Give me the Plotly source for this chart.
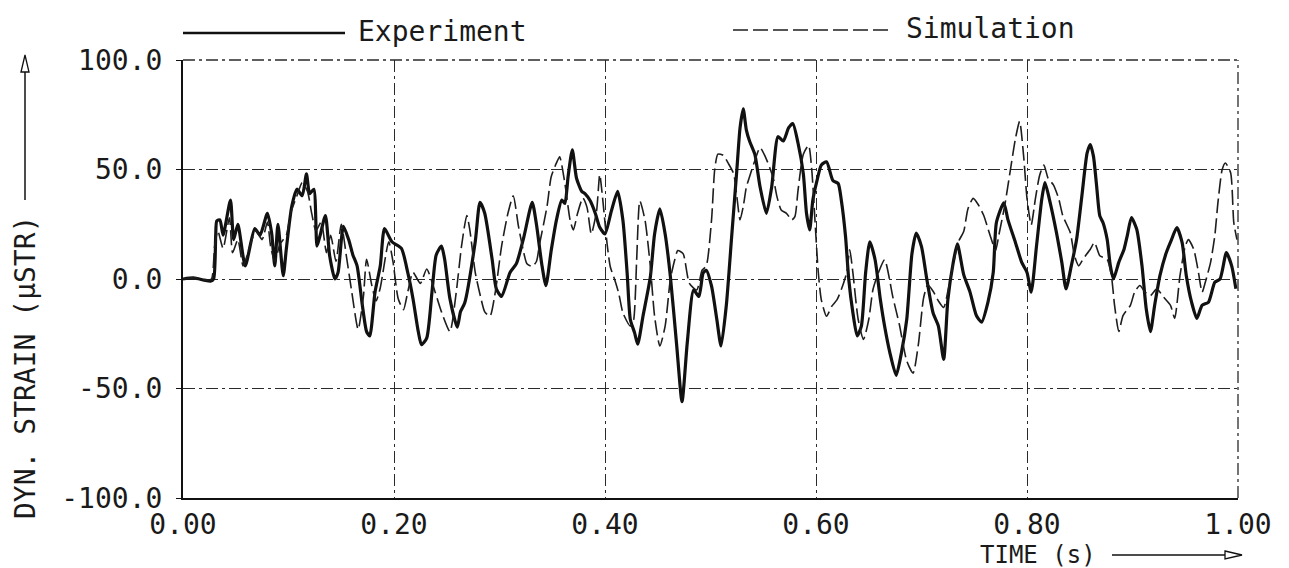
import plotly.graph_objects as go

# ---------------- data ----------------
exp_t = [0.000, 0.010, 0.020, 0.026, 0.029, 0.031, 0.032, 0.035, 0.038, 0.045, 0.048, 0.052, 0.059, 0.068,
         0.073, 0.080, 0.084, 0.087, 0.090, 0.095, 0.098, 0.103, 0.108, 0.113, 0.117, 0.120, 0.124, 0.127,
         0.130, 0.135, 0.139, 0.144, 0.147, 0.152, 0.157, 0.161, 0.165, 0.170, 0.174, 0.177, 0.182, 0.187,
         0.191, 0.198, 0.207, 0.213, 0.218, 0.223, 0.226, 0.231, 0.236, 0.240, 0.245, 0.248, 0.253, 0.260,
         0.263, 0.267, 0.277, 0.2815, 0.286, 0.293, 0.297, 0.302, 0.310, 0.316, 0.323, 0.331, 0.335, 0.340,
         0.344, 0.349, 0.354, 0.359, 0.362, 0.365, 0.369, 0.373, 0.378, 0.381, 0.386, 0.391, 0.395, 0.400,
         0.406, 0.412, 0.417, 0.421, 0.424, 0.428, 0.431, 0.436, 0.443, 0.447, 0.452, 0.457, 0.462, 0.468,
         0.473, 0.478, 0.484, 0.489, 0.493, 0.496, 0.501, 0.506, 0.510, 0.515, 0.520, 0.525, 0.528, 0.531,
         0.534, 0.537, 0.542, 0.547, 0.553, 0.558, 0.564, 0.569, 0.574, 0.578, 0.583, 0.588, 0.591, 0.594,
         0.597, 0.601, 0.605, 0.610, 0.616, 0.621, 0.624, 0.628, 0.631, 0.635, 0.639, 0.643, 0.647, 0.651,
         0.656, 0.661, 0.665, 0.670, 0.676, 0.681, 0.686, 0.691, 0.695, 0.700, 0.705, 0.711, 0.716, 0.721,
         0.725, 0.730, 0.734, 0.740, 0.746, 0.752, 0.757, 0.763, 0.768, 0.771, 0.778, 0.782, 0.789, 0.795,
         0.800, 0.804, 0.809, 0.814, 0.817, 0.822, 0.828, 0.833, 0.837, 0.842, 0.847, 0.852, 0.857, 0.860,
         0.863, 0.866, 0.869, 0.872, 0.876, 0.879, 0.882, 0.887, 0.892, 0.895, 0.899, 0.904, 0.909, 0.913,
         0.917, 0.921, 0.926, 0.932, 0.937, 0.942, 0.947, 0.951, 0.956, 0.961, 0.966, 0.972, 0.978, 0.983,
         0.989, 0.994, 0.998]
exp_v = [0, 0.5, -0.5, -1, 0, 20, 26.5, 27, 20, 36, 18, 25, 6, 23,
         20, 30, 21, 6, 25, 1.5, 14, 33, 41, 38, 48, 39, 41, 15,
         20, 29, 10.6, 0, 3, 24, 18, 11, 6, -12, -24, -26, -6, 6,
         23, 17, 14, 3, -9, -24, -30, -27, -6, 11, 15, 9, -9, -22,
         -15, -11, 17, 35, 30, 9, -4.5, -8, 3, 7, 19, 35, 25, 7,
         -3, 13, 27, 36, 34.5, 46.7, 59, 46, 40, 39, 35.7, 29.7, 23.6, 20.6,
         31, 40, 26.7, 2.6, -18.5, -24.5, -29.8, -17, 1, 20.6, 32, 20.6, 1, -30.6,
         -56, -29, -5, -8, 2.7, 4, -3.3, -18.5, -30.6, -12, 19, 50, 69, 77.7,
         68, 63, 57, 42, 30, 42, 65, 63, 69, 71, 62, 48, 30, 22.4,
         36, 45, 52, 53.5, 45, 43.6, 36, 19.4, 0, -15.5, -26, -21.5, 2.7, 17,
         8.8, -9.4, -21.5, -33.6, -44, -33.6, -18.5, 11.8, 21, 14.8, 0, -15.5, -21.5, -36.7,
         -9.4, 7.3, 16, 2, -6, -16.7, -19.7, -10.6, 3, 25.8, 34.8, 27, 16.7, 7.6,
         3, -6, 15, 36.4, 44, 34.8, 21, 7.6, -4.5, 6, 18, 37.9, 57.6, 61.4,
         56, 42.4, 28.8, 25.8, 18, 6, 0, 7.6, 13.6, 19.7, 28, 22.7, 6, -13.6,
         -24, -12, 1.5, 12, 18, 23.5, 16.7, 1.5, -10.6, -18, -12, -10.6, -1.5, 0,
         12, 6, -4.5]

sim_t = [0.000, 0.012, 0.022, 0.027, 0.030, 0.033, 0.038, 0.044, 0.047, 0.052, 0.057, 0.064, 0.069, 0.075,
         0.080, 0.083, 0.087, 0.092, 0.098, 0.102, 0.108, 0.113, 0.118, 0.122, 0.126, 0.131, 0.136, 0.140,
         0.145, 0.150, 0.155, 0.160, 0.166, 0.171, 0.174, 0.179, 0.183, 0.187, 0.195, 0.199, 0.204, 0.209,
         0.213, 0.218, 0.225, 0.231, 0.239, 0.245, 0.253, 0.259, 0.264, 0.269, 0.272, 0.277, 0.282, 0.286,
         0.291, 0.296, 0.302, 0.308, 0.313, 0.318, 0.323, 0.326, 0.331, 0.335, 0.338, 0.345, 0.349, 0.354,
         0.357, 0.362, 0.367, 0.370, 0.374, 0.379, 0.383, 0.387, 0.392, 0.395, 0.398, 0.402, 0.405, 0.409,
         0.413, 0.417, 0.424, 0.427, 0.430, 0.433, 0.438, 0.443, 0.447, 0.452, 0.457, 0.462, 0.466, 0.469,
         0.474, 0.480, 0.487, 0.492, 0.496, 0.501, 0.504, 0.507, 0.512, 0.517, 0.522, 0.525, 0.528, 0.531,
         0.534, 0.537, 0.542, 0.547, 0.552, 0.556, 0.560, 0.563, 0.567, 0.572, 0.577, 0.580, 0.583, 0.588,
         0.593, 0.596, 0.599, 0.602, 0.605, 0.610, 0.615, 0.620, 0.624, 0.629, 0.632, 0.635, 0.640, 0.645,
         0.650, 0.654, 0.659, 0.665, 0.673, 0.679, 0.686, 0.692, 0.697, 0.702, 0.706, 0.711, 0.716, 0.721,
         0.725, 0.730, 0.735, 0.740, 0.744, 0.749, 0.754, 0.759, 0.763, 0.767, 0.770, 0.774, 0.779, 0.784,
         0.789, 0.793, 0.797, 0.800, 0.804, 0.808, 0.812, 0.816, 0.820, 0.825, 0.830, 0.834, 0.841, 0.845,
         0.849, 0.853, 0.860, 0.864, 0.869, 0.876, 0.880, 0.883, 0.887, 0.891, 0.898, 0.902, 0.907, 0.912,
         0.917, 0.923, 0.929, 0.936, 0.940, 0.945, 0.950, 0.953, 0.958, 0.962, 0.966, 0.969, 0.974, 0.978,
         0.981, 0.985, 0.988, 0.993, 0.996, 0.999]
sim_v = [0, 0.5, -0.5, 0, 15, 22, 14, 28, 12, 18, 6, 16, 22, 18,
         26, 15, 8, 16, 20, 30, 38, 44, 40, 30, 22, 26, 12, 20,
         8, 25, 10, -6, -23, -8, 9, -3, -10, -4, 17, 8, -9, -14,
         -6, 3, -2, 4.6, -6, -15, -24, -6, 15, 29, 22, 3, -8, -15,
         -17, -6, 15, 30, 38, 24, 12, 7, 5.8, 8, 16, 33, 46.7, 53,
         55.8, 43.6, 26.7, 22.4, 30, 37, 32.6, 20.6, 31, 47.7, 35.7, 16, 5.6, 0,
         -6.5, -15.5, -21.5, -19, 8.6, 35.7, 26.7, 5.6, -17, -30.6, -21.5, 0, 8.6, 13,
         11.6, -2, -5, 4, 6, 27, 50, 57, 56.5, 52.7, 48, 37.6, 27, 33,
         42, 46.7, 54, 60, 55.8, 51, 45, 37.6, 31.5, 30, 27, 28.5, 40.6, 57,
         61, 49.7, 27, 4, -9.4, -17, -12.4, -9.4, -4.8, 2.7, 13.3, 2.7, -18.5, -27.6,
         -18.5, -4.8, 2.7, 8.8, -8.6, -20.8, -37.4, -43, -30, -8.6, -2.6, -5.6, -10, -13,
         -5.6, 6.5, 17, 21.7, 32, 36.8, 33.8, 29, 23, 17, 12.6, 21.7, 33.8, 49,
         64, 72, 55, 36.8, 24.7, 36.8, 47.4, 52, 46, 43, 36.8, 28.8, 21.2, 10.6,
         6, 9, 13.6, 16.7, 10.6, 9, 1.5, -12, -24, -16.7, -12, -6, -3, -6,
         -7.6, -4.5, -8, -12, -18, 1.5, 15, 18, 13.6, 4.5, -6, -1.5, 7.6, 19.7,
         35, 50, 53, 48.5, 25.8, 18]

series_names = ["Experiment", "Simulation"]
x_tickvals = [0.0, 0.2, 0.4, 0.6, 0.8, 1.0]
x_ticktext = ["0.00", "0.20", "0.40", "0.60", "0.80", "1.00"]
y_tickvals = [-100, -50, 0, 50, 100]
y_ticktext = ["-100.0", "-50.0", "0.0", "50.0", "100.0"]
y_title = "DYN. STRAIN (\u03bcSTR)"
x_title = "TIME (s)"

# ---------------- layout geometry (pixels) ----------------
W, H = 1289, 568
L, R, T, B = 183, 1238, 60, 498
FONT = "DejaVu Sans Mono"
INK = "#1a1a1a"
TICK_SIZE = 28


def fx(p):
    return (p - L) / (R - L)


def fy(p):
    return (B - p) / (B - T)


fig = go.Figure()
fig.add_trace(go.Scatter(x=exp_t, y=exp_v, mode="lines", name=series_names[0],
                         line=dict(color="#111111", width=3.2, shape="spline", smoothing=0.6),
                         showlegend=False))
fig.add_trace(go.Scatter(x=sim_t, y=sim_v, mode="lines", name=series_names[1],
                         line=dict(color="#1e1e1e", width=1.6, dash="15px,5px", shape="spline", smoothing=0.6),
                         showlegend=False))

grid_dash = "12px,4px,3px,4px"
GRID = "#2a2a2a"
fig.update_layout(
    width=W, height=H,
    margin=dict(l=L, r=W - R, t=T, b=H - B, pad=0),
    paper_bgcolor="white", plot_bgcolor="white",
    font=dict(family=FONT, color=INK, size=TICK_SIZE),
    xaxis=dict(range=[0, 1], tickvals=x_tickvals, ticktext=x_ticktext,
               showgrid=True, gridcolor=GRID, gridwidth=1.3, griddash=grid_dash,
               showline=True, linecolor="#111111", linewidth=2, mirror=False,
               zeroline=False, ticks="", ticklabelstandoff=0,
               tickfont=dict(size=TICK_SIZE, family=FONT, color=INK)),
    yaxis=dict(range=[-100, 100], tickvals=y_tickvals, ticktext=y_ticktext,
               showgrid=True, gridcolor=GRID, gridwidth=1.3, griddash=grid_dash,
               showline=True, linecolor="#111111", linewidth=2, mirror=False,
               zeroline=False, ticks="outside", ticklen=5, tickcolor="#111111",
               ticklabelstandoff=8,
               tickfont=dict(size=TICK_SIZE, family=FONT, color=INK)),
)

shapes = []
annotations = []

# right and top borders drawn as grid-style lines
shapes.append(dict(type="line", xref="paper", yref="paper", x0=1, x1=1, y0=0, y1=1,
                   line=dict(color=GRID, width=1.3, dash=grid_dash)))
shapes.append(dict(type="line", xref="paper", yref="paper", x0=0, x1=1, y0=1, y1=1,
                   line=dict(color=GRID, width=1.3, dash=grid_dash)))

# legend (long sample lines as in the reference)
shapes.append(dict(type="line", xref="paper", yref="paper", x0=fx(183), x1=fx(345), y0=fy(33), y1=fy(33),
                   line=dict(color="#111111", width=2.5)))
annotations.append(dict(text=series_names[0], xref="paper", yref="paper", x=fx(356), y=fy(31),
                        xanchor="left", yanchor="middle", showarrow=False,
                        font=dict(family=FONT, size=28, color=INK)))
shapes.append(dict(type="line", xref="paper", yref="paper", x0=fx(733), x1=fx(893), y0=fy(30), y1=fy(30),
                   line=dict(color="#1e1e1e", width=1.6, dash="15px,5px")))
annotations.append(dict(text=series_names[1], xref="paper", yref="paper", x=fx(904), y=fy(28),
                        xanchor="left", yanchor="middle", showarrow=False,
                        font=dict(family=FONT, size=28, color=INK)))

# y-axis title with arrow
annotations.append(dict(text=y_title, xref="paper", yref="paper", x=fx(25), y=fy(368),
                        xanchor="center", yanchor="middle", textangle=-90, showarrow=False,
                        font=dict(family=FONT, size=28, color=INK)))
shapes.append(dict(type="line", xref="paper", yref="paper", x0=fx(25), x1=fx(25), y0=fy(200), y1=fy(70),
                   line=dict(color="#111111", width=1.5)))
shapes.append(dict(type="path", xref="paper", yref="paper",
                   path="M {a},{b} L {c},{d} L {e},{b} Z".format(a=fx(21), b=fy(72), c=fx(25), d=fy(55), e=fx(29)),
                   fillcolor="white", line=dict(color="#111111", width=1.3)))

# x-axis title with arrow
annotations.append(dict(text=x_title, xref="paper", yref="paper", x=fx(1098), y=fy(555),
                        xanchor="right", yanchor="middle", showarrow=False,
                        font=dict(family=FONT, size=24, color=INK)))
shapes.append(dict(type="line", xref="paper", yref="paper", x0=fx(1112), x1=fx(1226), y0=fy(555), y1=fy(555),
                   line=dict(color="#111111", width=1.5)))
shapes.append(dict(type="path", xref="paper", yref="paper",
                   path="M {a},{b} L {c},{d} L {a},{e} Z".format(a=fx(1225), b=fy(551), c=fx(1242), d=fy(555), e=fy(559)),
                   fillcolor="white", line=dict(color="#111111", width=1.3)))

fig.update_layout(shapes=shapes, annotations=annotations)
fig.write_html("out.html")
